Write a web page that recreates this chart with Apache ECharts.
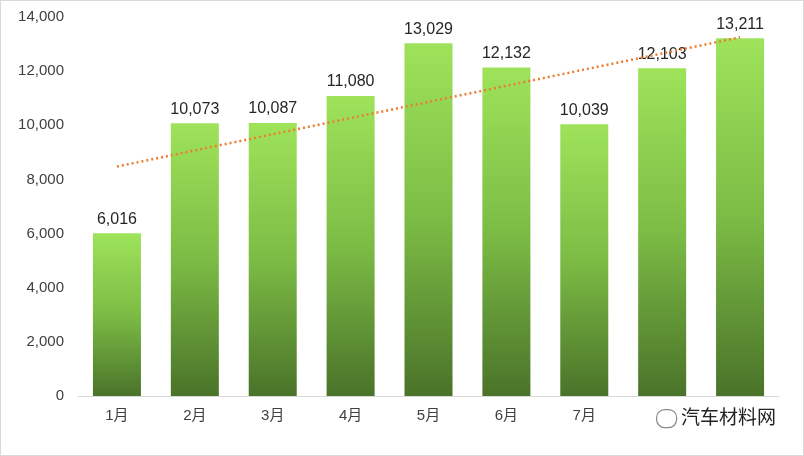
<!DOCTYPE html>
<html><head><meta charset="utf-8">
<script src="https://cdn.jsdelivr.net/npm/echarts@6/dist/echarts.min.js"></script>
<style>html,body{margin:0;padding:0;background:#fff}#c{width:802px;height:454px;border:1px solid #d9d9d9}</style>
</head><body><div id="c"></div>
<script>
const categories = ['1月','2月','3月','4月','5月','6月','7月','8月','9月'];
const values = [6016,10073,10087,11080,13029,12132,10039,12103,13211];
const yTicks = [0,2000,4000,6000,8000,10000,12000,14000];

// linear trend line (least squares) computed from values
const n = values.length;
const xm = (n - 1) / 2;
const ym = values.reduce((a, b) => a + b, 0) / n;
let num = 0, den = 0;
values.forEach((v, i) => { num += (i - xm) * (v - ym); den += (i - xm) * (i - xm); });
const slope = num / den;
const trend = values.map((v, i) => +(ym + slope * (i - xm)).toFixed(1));

const font = "'Liberation Sans','Noto Sans CJK SC',sans-serif";
const chart = echarts.init(document.getElementById('c'));
chart.setOption({
  animation: false,
  grid: { left: 77, right: 24, top: 16, bottom: 59 },
  xAxis: {
    type: 'category', data: categories,
    axisLine: { lineStyle: { color: '#d9d9d9' } },
    axisTick: { show: false },
    axisLabel: { color: '#404040', fontSize: 15, fontFamily: font, margin: 12 }
  },
  yAxis: {
    type: 'value', min: yTicks[0], max: yTicks[yTicks.length - 1], interval: 2000,
    splitLine: { show: false },
    axisLine: { show: false },
    axisLabel: { color: '#404040', fontSize: 15, fontFamily: font, margin: 14,
      formatter: v => v.toLocaleString('en-US') }
  },
  series: [{
    type: 'bar', data: values, barWidth: 48,
    itemStyle: { color: new echarts.graphic.LinearGradient(0, 0, 0, 1, [
      { offset: 0, color: '#9ee35a' }, { offset: 0.5, color: '#7cbc45' }, { offset: 1, color: '#4a7329' }]) },
    label: { show: true, position: 'top', color: '#262626', fontSize: 16, fontFamily: font,
      distance: 6, formatter: p => p.value.toLocaleString('en-US') }
  }, {
    type: 'line', data: trend, symbol: 'none', silent: true, z: 5,
    lineStyle: { color: '#ed7d31', width: 2.5, type: [2, 3] }
  }],
  graphic: [{
    type: 'rect', left: 640, top: 400, shape: { width: 160, height: 40 },
    style: { fill: '#fff' }, z: 50
  }, {
    type: 'text', left: 680, top: 406, z: 51,
    style: { text: '汽车材料网', fill: '#222', font: "19px 'Noto Sans CJK SC'" }
  }, {
    type: 'rect', left: 655, top: 408, shape: { width: 20, height: 18, r: 8 }, z: 51,
    style: { fill: '#fff', stroke: '#888', lineWidth: 1.2 }
  }]
});
</script></body></html>
